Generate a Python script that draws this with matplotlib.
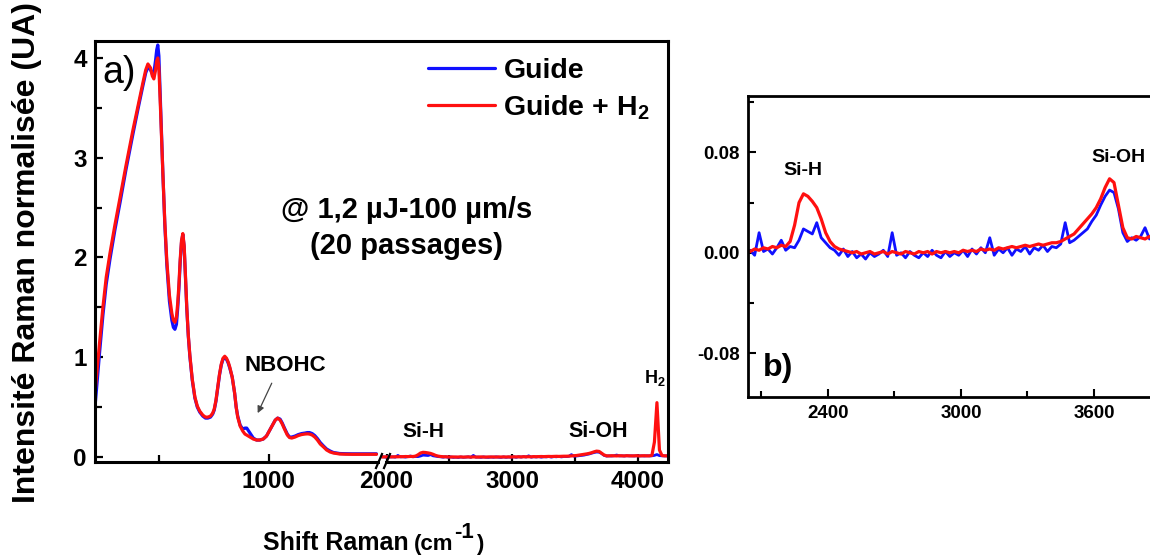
import numpy as np
import matplotlib
matplotlib.use("Agg")
import matplotlib.pyplot as plt
from matplotlib.ticker import FixedLocator, MultipleLocator, FormatStrFormatter
from matplotlib.lines import Line2D
from matplotlib.patches import Rectangle

plt.rcParams.update({
    "font.family": ["Liberation Sans", "DejaVu Sans"],
    "font.weight": "bold",
    "mathtext.fontset": "custom",
    "mathtext.rm": "Liberation Sans:bold",
    "mathtext.bf": "Liberation Sans:bold",
    "mathtext.default": "rm",
    "axes.unicode_minus": False,
})

# ---------------- data ----------------
# low-wavenumber part (cm-1) of panel a
lo_x = [209, 230, 245, 260, 277, 300, 323, 350, 382, 405,
        427, 440, 450, 462, 470, 477, 485, 490, 495, 500,
        508, 518, 527, 536, 548, 559, 566, 573, 580, 586,
        591, 597, 603, 609, 615, 621, 627, 634, 641, 652,
        664, 675, 686, 700, 712, 723, 735, 745, 752, 760,
        768, 776, 784, 792, 800, 808, 816, 823, 834, 845,
        852, 859, 870, 882, 892, 900, 915, 930, 945, 959,
        975, 990, 1005, 1020, 1030, 1041, 1052, 1062, 1072, 1085,
        1095, 1105, 1120, 1135, 1150, 1165, 1176, 1186, 1198, 1210,
        1222, 1235, 1250, 1264, 1280, 1295, 1310, 1323, 1350, 1380,
        1410, 1440, 1470, 1491]
lo_red = [0.64, 1.15, 1.50, 1.80, 2.04, 2.33, 2.60, 2.92, 3.28, 3.52,
          3.75, 3.88, 3.94, 3.90, 3.82, 3.79, 3.88, 3.97, 4.00, 3.90,
          3.45, 2.85, 2.35, 1.97, 1.62, 1.44, 1.37, 1.35, 1.40, 1.55,
          1.72, 1.98, 2.17, 2.24, 2.12, 1.82, 1.50, 1.22, 1.02, 0.78,
          0.60, 0.51, 0.46, 0.42, 0.40, 0.40, 0.41, 0.44, 0.48, 0.57,
          0.70, 0.83, 0.93, 0.99, 1.01, 0.99, 0.95, 0.90, 0.80, 0.64,
          0.50, 0.40, 0.31, 0.26, 0.23, 0.22, 0.20, 0.18, 0.17, 0.17,
          0.18, 0.21, 0.27, 0.33, 0.37, 0.39, 0.37, 0.33, 0.28, 0.22,
          0.195, 0.19, 0.20, 0.215, 0.225, 0.23, 0.232, 0.23, 0.22, 0.20,
          0.17, 0.13, 0.10, 0.07, 0.05, 0.04, 0.035, 0.03, 0.028, 0.027,
          0.027, 0.027, 0.027, 0.027]
lo_blue = [0.50, 1.05, 1.42, 1.73, 1.98, 2.28, 2.55, 2.88, 3.24, 3.49,
           3.72, 3.85, 3.91, 3.88, 3.84, 3.85, 3.98, 4.08, 4.13, 4.02,
           3.50, 2.85, 2.33, 1.93, 1.56, 1.37, 1.30, 1.28, 1.33, 1.50,
           1.68, 1.95, 2.15, 2.23, 2.11, 1.80, 1.49, 1.21, 1.01, 0.77,
           0.59, 0.50, 0.45, 0.41, 0.39, 0.39, 0.40, 0.43, 0.47, 0.56,
           0.69, 0.82, 0.92, 0.98, 0.99, 0.98, 0.94, 0.89, 0.80, 0.64,
           0.50, 0.41, 0.32, 0.28, 0.29, 0.29, 0.24, 0.19, 0.17, 0.17,
           0.18, 0.21, 0.27, 0.33, 0.37, 0.39, 0.38, 0.34, 0.29, 0.23,
           0.20, 0.20, 0.21, 0.225, 0.235, 0.24, 0.245, 0.245, 0.235, 0.215,
           0.185, 0.145, 0.11, 0.08, 0.06, 0.045, 0.04, 0.035, 0.033, 0.032,
           0.032, 0.032, 0.032, 0.032]

# high-wavenumber part (1970 ... 4250 cm-1, every 20 cm-1)
hi_x = np.arange(1970, 4251, 20)
hi_blue = [0.002, -0.001, 0.003, 0.000, 0.002, -0.002, 0.016, 0.001, 0.003, -0.001,
           0.004, 0.010, 0.002, 0.005, 0.004, 0.010, 0.019, 0.017, 0.015, 0.024,
           0.012, 0.008, 0.004, 0.002, -0.002, 0.003, -0.003, 0.001, -0.004, -0.001,
           -0.005, 0.000, -0.003, -0.001, 0.002, -0.003, 0.016, -0.002, 0.000, -0.004,
           0.001, -0.002, -0.004, 0.000, -0.003, 0.002, -0.002, -0.004, 0.001, -0.003,
           0.000, -0.002, 0.002, -0.003, 0.003, -0.001, 0.004, 0.000, 0.012, -0.002,
           0.003, 0.000, 0.004, -0.002, 0.003, 0.001, 0.005, -0.001, 0.004, 0.002,
           0.006, 0.001, 0.005, 0.004, 0.007, 0.024, 0.008, 0.010, 0.013, 0.016,
           0.019, 0.025, 0.030, 0.038, 0.045, 0.050, 0.048, 0.035, 0.016, 0.009,
           0.012, 0.010, 0.013, 0.020, 0.011, 0.012, 0.010, 0.013, 0.011, 0.012,
           0.010, 0.013, 0.011, 0.012, 0.010, 0.013, 0.011, 0.012, 0.016, 0.025,
           0.014, 0.012, 0.011, 0.012, 0.011]
hi_red = [0.001, 0.002, 0.000, 0.002, 0.001, 0.003, 0.002, 0.004, 0.003, 0.005,
          0.004, 0.006, 0.005, 0.009, 0.022, 0.040, 0.047, 0.045, 0.041, 0.036,
          0.027, 0.016, 0.009, 0.005, 0.003, 0.002, 0.001, 0.000, 0.001, -0.001,
          0.000, 0.001, -0.001, 0.000, 0.001, -0.001, 0.001, 0.000, -0.001, 0.001,
          0.000, -0.001, 0.001, 0.000, 0.001, -0.001, 0.001, 0.000, 0.001, 0.000,
          0.001, 0.000, 0.002, 0.001, 0.002, 0.001, 0.003, 0.002, 0.003, 0.002,
          0.004, 0.003, 0.004, 0.005, 0.004, 0.005, 0.006, 0.005, 0.006, 0.007,
          0.006, 0.007, 0.008, 0.008, 0.009, 0.011, 0.013, 0.015, 0.019, 0.023,
          0.027, 0.031, 0.036, 0.043, 0.052, 0.059, 0.056, 0.038, 0.020, 0.012,
          0.011, 0.013, 0.012, 0.011, 0.013, 0.012, 0.011, 0.013, 0.012, 0.011,
          0.012, 0.013, 0.011, 0.012, 0.013, 0.011, 0.012, 0.016, 0.150, 0.545,
          0.070, 0.015, 0.012, 0.011, 0.012]

series_labels = ["Guide", "Guide + H$_2$"]
BLUE = "#1010FF"
RED = "#FF1010"

# ---------------- figure ----------------
W, H = 1150, 557
fig = plt.figure(figsize=(W / 100, H / 100), dpi=100)


def fx(p):
    return p / W


def fy(p):
    return 1 - p / H


# broken x scale for panel a (px-like units)
L0, L1, R0 = 209.0, 1505.0, 1960.0
SL, SR = 0.22, 0.126
GAP = 2.0
U1 = (L1 - L0) * SL


def fwd(x):
    x = np.asarray(x, dtype=float)
    return np.where(x <= L1, (x - L0) * SL,
                    np.where(x <= R0, U1 + (x - L1) * GAP / (R0 - L1),
                             U1 + GAP + (x - R0) * SR))


def inv(u):
    u = np.asarray(u, dtype=float)
    return np.where(u <= U1, u / SL + L0,
                    np.where(u <= U1 + GAP, L1 + (u - U1) * (R0 - L1) / GAP,
                             R0 + (u - U1 - GAP) / SR))


axA = fig.add_axes([fx(95), fy(462), fx(668 - 95), (462 - 41) / H])
axA.set_xscale("function", functions=(fwd, inv))
lb, = axA.plot(lo_x, lo_blue, color=BLUE, lw=2.3, solid_capstyle="round")
lr, = axA.plot(lo_x, lo_red, color=RED, lw=2.3, solid_capstyle="round")
axA.plot(hi_x, hi_blue, color=BLUE, lw=2.0)
axA.plot(hi_x, hi_red, color=RED, lw=2.3)
axA.set_xlim(209, 4238)
axA.set_ylim(-0.05, 4.17)
axA.xaxis.set_major_locator(FixedLocator([1000, 2000, 3000, 4000]))
axA.xaxis.set_minor_locator(FixedLocator([500, 2500, 3500]))
axA.yaxis.set_major_locator(MultipleLocator(1))
axA.yaxis.set_minor_locator(MultipleLocator(0.5))
axA.xaxis.set_major_formatter(FormatStrFormatter("%d"))
axA.yaxis.set_major_formatter(FormatStrFormatter("%d"))
axA.tick_params(which="major", direction="in", length=6, width=1.6,
                labelsize=17.5, pad=6)
axA.tick_params(which="minor", direction="in", length=5, width=1.6)
for s in axA.spines.values():
    s.set_linewidth(2.2)

# break marks on bottom spine
fig.add_artist(Rectangle((fx(380), fy(465)), fx(5), 6 / H, transform=fig.transFigure,
                         facecolor="white", edgecolor="none", zorder=5))
for x0 in (376, 384):
    fig.add_artist(Line2D([fx(x0), fx(x0 + 6)], [fy(468), fy(454)],
                          transform=fig.transFigure, color="black", lw=1.6, zorder=6))

leg = axA.legend([lb, lr], series_labels, loc="upper left",
                 bbox_to_anchor=(fx(428), fy(58)), bbox_transform=fig.transFigure,
                 frameon=False, fontsize=20.5, handlelength=2.35, handletextpad=0.3,
                 labelspacing=0.32, borderpad=0, borderaxespad=0)

axA.text(0.042, 0.925, "a)", transform=axA.transAxes, fontsize=27,
         fontweight="normal", ha="center", va="center")
axA.text(0.543, 0.599, "@ 1,2 µJ-100 µm/s", transform=axA.transAxes,
         fontsize=21, ha="center", va="center")
axA.text(0.543, 0.513, "(20 passages)", transform=axA.transAxes,
         fontsize=21, ha="center", va="center")
axA.annotate("", xy=(950, 0.44), xytext=(1014, 0.74),
             arrowprops=dict(arrowstyle="-|>", color="#444444", lw=0.9,
                             mutation_scale=10, shrinkA=0, shrinkB=0))
axA.text(1077, 0.92, "NBOHC", fontsize=16, ha="center", va="center")
axA.text(2294, 0.26, "Si-H", fontsize=15, ha="center", va="center")
axA.text(3683, 0.26, "Si-OH", fontsize=15.5, ha="center", va="center")
axA.text(4135, 0.79, "H$_2$", fontsize=13, ha="center", va="center")

fig.text(fx(27), fy(252), "Intensité Raman normalisée (UA)", rotation=90,
         fontsize=23, ha="center", va="center")

# x label composed of pieces
r = fig.canvas.get_renderer()
t1 = fig.text(fx(263), fy(550), "Shift Raman", fontsize=18, ha="left", va="baseline")
e1 = t1.get_window_extent(r)
t2 = fig.text(fx(e1.x1 + 5), fy(550), "(cm", fontsize=16, ha="left", va="baseline")
e2 = t2.get_window_extent(r)
t3 = fig.text(fx(e2.x1 + 1), fy(538), "-1", fontsize=16, ha="left", va="baseline")
e3 = t3.get_window_extent(r)
fig.text(fx(e3.x1 + 2), fy(550), ")", fontsize=16, ha="left", va="baseline")

# ---------------- panel b ----------------
axB = fig.add_axes([fx(748), fy(397), fx(1165 - 748), (397 - 96) / H])
axB.plot(hi_x, hi_blue, color=BLUE, lw=2.0)
axB.plot(hi_x, hi_red, color=RED, lw=2.3)
axB.set_xlim(2040, 3920)
axB.set_ylim(-0.115, 0.125)
axB.xaxis.set_major_locator(MultipleLocator(600))
axB.xaxis.set_minor_locator(MultipleLocator(300))
axB.yaxis.set_major_locator(MultipleLocator(0.08))
axB.yaxis.set_minor_locator(MultipleLocator(0.04))
axB.yaxis.set_major_formatter(FormatStrFormatter("%.2f"))
axB.xaxis.set_major_formatter(FormatStrFormatter("%d"))
axB.tick_params(which="major", direction="in", length=6, width=1.5,
                labelsize=13.5, pad=6)
axB.tick_params(which="minor", direction="in", length=4, width=1.5)
for s in axB.spines.values():
    s.set_linewidth(2.0)
axB.text(2288, 0.0656, "Si-H", fontsize=14, ha="center", va="center")
axB.text(3708, 0.0758, "Si-OH", fontsize=14, ha="center", va="center")
axB.text(2175, -0.092, "b)", fontsize=23, ha="center", va="center")

fig.savefig("out.png", dpi=100)
